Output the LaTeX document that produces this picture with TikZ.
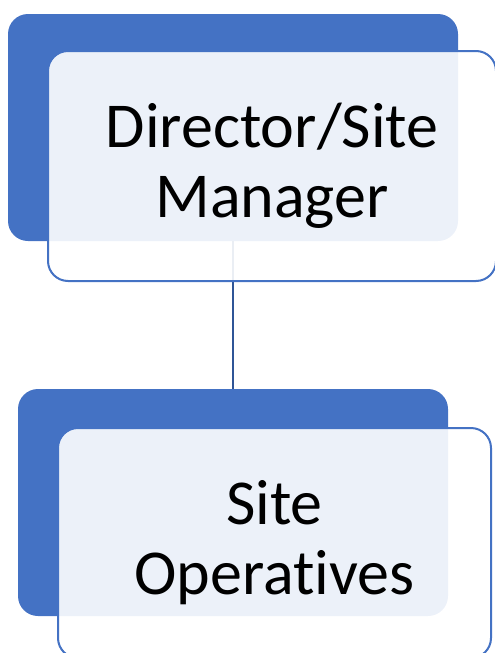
\documentclass[tikz,border=0pt]{standalone}
\usepackage{fontspec}
\setmainfont{Carlito}[Ligatures=NoCommon]
\usepackage{tikz}

\definecolor{boxblue}{HTML}{4472C4}
\definecolor{lineblue}{HTML}{2F5597}

\begin{document}
\begin{tikzpicture}[x=1pt,y=-1pt]

\tikzset{
    backbox/.style={fill=boxblue, rounded corners=20pt, inner sep=0pt},
    frontbox/.style={draw=boxblue, line width=2pt, fill=white, fill opacity=0.9, text opacity=1,
        rounded corners=20pt, inner sep=0pt, align=center,
        font=\fontsize{64}{70}\selectfont}
}
\useasboundingbox (0,0) rectangle (495,653);

\node[backbox, minimum width=450pt, minimum height=227pt] (dirback) at (233,127.5) {};
\node[backbox, minimum width=430pt, minimum height=227pt] (opsback) at (233,502.5) {};
\draw[lineblue, line width=1.8pt] (dirback.south) -- (opsback.north);

\node[frontbox, minimum width=448pt, minimum height=230pt] (director) at (272,166) {Director/Site\\Manager};
\node[frontbox, minimum width=433pt, minimum height=230pt] (operatives) at (274.5,543) {Site\\Operatives};
\end{tikzpicture}
\end{document}
